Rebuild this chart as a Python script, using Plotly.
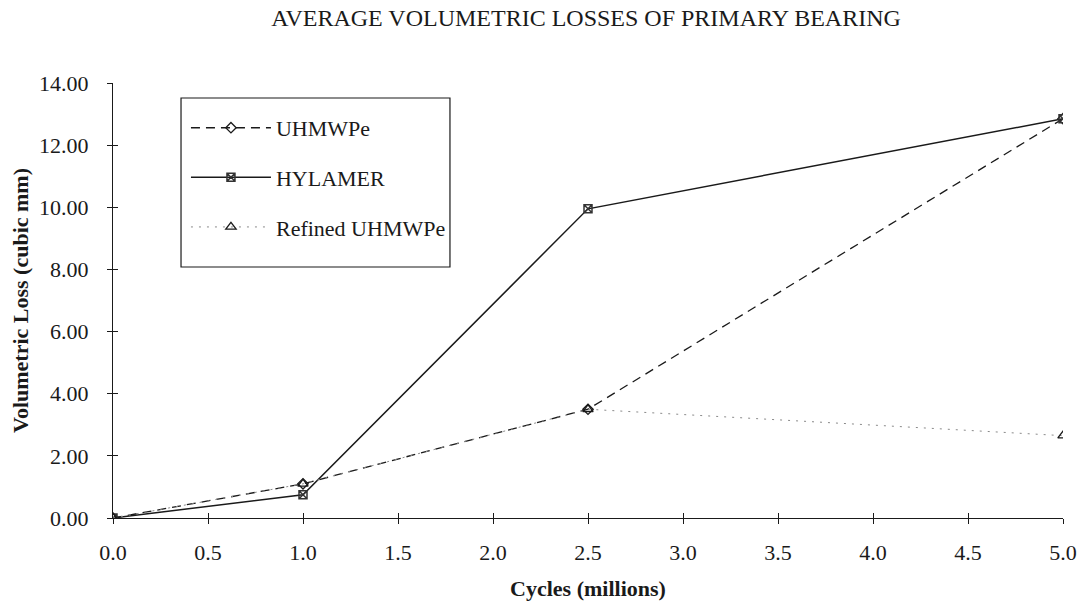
import plotly.graph_objects as go

cycles = [0.0, 1.0, 2.5, 5.0]
uhmwpe = [0.0, 1.10, 3.50, 12.85]
hylamer = [0.0, 0.75, 9.95, 12.85]
refined = [0.0, 1.10, 3.50, 2.65]

x_ticks = [0.0, 0.5, 1.0, 1.5, 2.0, 2.5, 3.0, 3.5, 4.0, 4.5, 5.0]
y_ticks = [0, 2, 4, 6, 8, 10, 12, 14]

font_family = "Liberation Serif, Times New Roman, serif"
ink = "#1a1a1a"

fig = go.Figure()
fig.add_trace(go.Scatter(x=cycles, y=uhmwpe, name="UHMWPe", mode="lines+markers",
                         legendgroup="a",
                         line=dict(color=ink, width=1.3, dash="9px,6px"),
                         marker=dict(symbol="diamond-open", size=8, color=ink, line=dict(width=1.3))))
fig.add_trace(go.Scatter(x=cycles, y=hylamer, name="HYLAMER", mode="lines+markers",
                         legendgroup="b",
                         line=dict(color=ink, width=1.5),
                         marker=dict(symbol="square-x-open", size=8, color="#333", line=dict(width=1.5))))
fig.add_trace(go.Scatter(x=cycles, y=refined, name="Refined UHMWPe", mode="lines+markers",
                         legendgroup="c",
                         line=dict(color="#8a8a8a", width=1, dash="2px,6px"),
                         marker=dict(symbol="triangle-up-open", size=9, color=ink, line=dict(width=1.3))))
# helper trace for the inner half of the crossing tick marks
fig.add_trace(go.Scatter(x=[None], y=[None], xaxis="x2", yaxis="y2", showlegend=False,
                         hoverinfo="skip"))

fig.update_layout(
    width=1084, height=611,
    paper_bgcolor="white", plot_bgcolor="white",
    margin=dict(l=113, r=21, t=83, b=93, autoexpand=False),
    font=dict(family=font_family, size=22, color=ink),
    title=dict(text="AVERAGE VOLUMETRIC LOSSES OF PRIMARY BEARING",
               x=0.5406, xanchor="center", y=0.972, yanchor="middle",
               font=dict(size=24, family=font_family, color=ink)),
    legend=dict(x=0.0768, y=0.945, xanchor="left", yanchor="top",
                borderwidth=0, bgcolor="rgba(0,0,0,0)",
                font=dict(size=22, family=font_family, color=ink),
                traceorder="grouped", tracegroupgap=18, itemwidth=80),
    shapes=[dict(type="rect", xref="paper", yref="paper",
                 x0=0.0716, x1=0.3547, y0=0.577, y1=0.9655,
                 line=dict(color=ink, width=1.2), fillcolor="white", layer="below")],
    xaxis=dict(range=[0, 5], tickvals=x_ticks, ticktext=[f"{v:.1f}" for v in x_ticks],
               showgrid=False, zeroline=False, showline=True, linecolor=ink, linewidth=1.2,
               ticks="outside", ticklen=5, tickcolor=ink, tickwidth=1.2,
               ticklabelstandoff=9, automargin=False,
               tickfont=dict(size=22),
               title=dict(text="<b>Cycles (millions)</b>", font=dict(size=22), standoff=17)),
    yaxis=dict(range=[0, 14], tickvals=y_ticks, ticktext=[f"{v:.2f}" for v in y_ticks],
               showgrid=False, zeroline=False, showline=True, linecolor=ink, linewidth=1.2,
               ticks="outside", ticklen=5, tickcolor=ink, tickwidth=1.2,
               ticklabelstandoff=14, automargin=False,
               tickfont=dict(size=22),
               title=dict(text="<b>Volumetric Loss (cubic mm)</b>", font=dict(size=22), standoff=4)),
    xaxis2=dict(range=[0, 5], tickvals=x_ticks, overlaying="x", anchor="y2", side="bottom",
                showticklabels=False, showgrid=False, zeroline=False, showline=False,
                ticks="inside", ticklen=5, tickcolor=ink, tickwidth=1.2),
    yaxis2=dict(range=[0, 14], tickvals=y_ticks, overlaying="y", anchor="x2", side="left",
                showticklabels=False, showgrid=False, zeroline=False, showline=False,
                ticks="inside", ticklen=5, tickcolor=ink, tickwidth=1.2),
)

fig.write_html("out.html", config={"displayModeBar": False},
               post_script="document.body.style.margin='0';document.body.style.overflow='hidden';")
